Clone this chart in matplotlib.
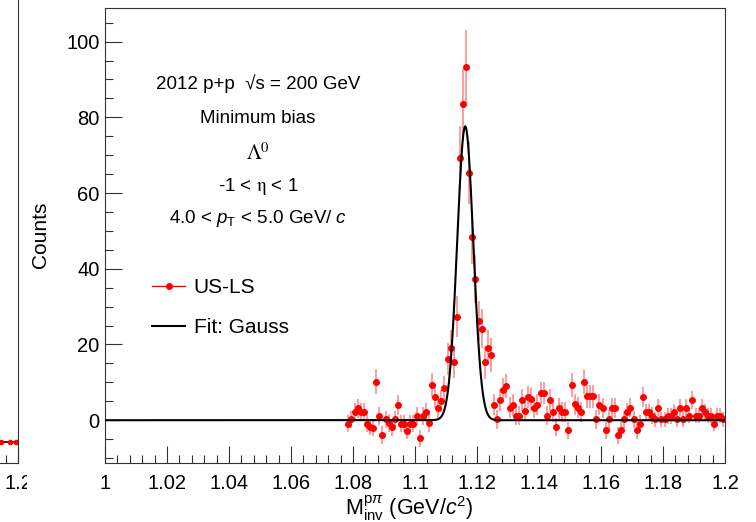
import numpy as np
import matplotlib.pyplot as plt
from matplotlib.ticker import MultipleLocator, FuncFormatter
from matplotlib.patches import Rectangle
from matplotlib.lines import Line2D

plt.rcParams['font.family'] = ['Liberation Sans', 'DejaVu Sans']
plt.rcParams['mathtext.fontset'] = 'custom'
plt.rcParams['mathtext.rm'] = 'Liberation Sans'
plt.rcParams['mathtext.it'] = 'Liberation Sans:italic'
plt.rcParams['mathtext.bf'] = 'Liberation Sans:bold'

# Histogram binning (US-LS invariant mass)
m_low = 1.078
bin_width = 0.001

# US-LS counts per bin
counts = [
    -0.9, 0.2, 2.1, 3.1, 2.2, 2.1, -0.9, -1.8, -2.0, 10.1,
    1.2, -3.9, 0.2, -0.7, -1.9, 0.2, 4.1, -0.9, -0.9, -2.8,
    -0.9, -0.9, 1.2, -4.8, 1.2, 2.1, -0.8, 9.3, 6.2, 3.3,
    5.2, 8.4, 16.2, 19.1, 15.3, 27.3, 69.2, 83.5, 93.2, 65.4,
    48.4, 37.3, 26.2, 24.2, 15.3, 19.2, 17.3, 4.1, 0.3, 5.3,
    8.1, 9.1, 3.3, 4.0, 1.2, 1.2, 5.3, 2.4, 6.2, 5.6,
    3.2, 4.1, 7.2, 7.2, 1.2, 5.3, 2.1, -1.9, 3.1, 2.1,
    2.1, -2.7, 9.2, 4.2, 3.3, 2.1, 10.0, 6.3, 6.3, 6.3,
    0.2, 4.1, 3.3, -2.7, 0.2, 3.3, 3.3, -4.0, -2.7, 0.2,
    2.1, 3.3, 0.2, -2.7, -0.9, 6.2, 2.1, 2.1, 1.2, 0.2,
    3.3, 0.2, 0.2, 1.2, 1.2, 2.1, 0.2, 3.3, 0.2, 3.3,
    1.2, 5.3, 1.2, 1.2, 3.3, 2.1, 1.2, 1.2, -0.9, 1.2,
    1.2, 0.2,
]
errors = [
    2.3, 2.2, 2.4, 2.5, 2.4, 2.4, 2.2, 2.2, 2.3, 3.3,
    2.4, 2.3, 2.3, 2.3, 2.2, 2.3, 2.6, 2.3, 2.3, 2.2,
    2.3, 2.3, 2.4, 2.3, 2.4, 2.5, 2.4, 3.2, 3.0, 2.8,
    2.9, 3.2, 4.2, 4.6, 4.2, 5.4, 8.5, 9.3, 9.9, 8.3,
    7.1, 6.3, 5.4, 5.2, 4.3, 4.6, 4.5, 2.8, 2.5, 2.9,
    3.1, 3.2, 2.7, 2.8, 2.5, 2.5, 2.9, 2.6, 2.9, 2.9,
    2.7, 2.8, 3.0, 3.0, 2.5, 2.9, 2.6, 2.4, 2.7, 2.6,
    2.6, 2.3, 3.2, 2.8, 2.7, 2.6, 3.2, 3.0, 3.0, 3.0,
    2.4, 2.7, 2.6, 2.3, 2.4, 2.6, 2.6, 2.2, 2.3, 2.3,
    2.4, 2.5, 2.2, 2.2, 2.2, 2.7, 2.3, 2.3, 2.2, 2.1,
    2.3, 2.1, 2.1, 2.1, 2.1, 2.2, 2.0, 2.3, 2.0, 2.2,
    2.0, 2.4, 2.0, 2.0, 2.2, 2.1, 2.0, 2.0, 1.9, 2.0,
    2.0, 1.9,
]
mass = m_low + bin_width * (np.arange(len(counts)) + 0.5)

# Gaussian fit parameters
fit_amp = 77.6
fit_mean = 1.1162
fit_sigma = 0.0026

# neighbouring panel (only its right edge shows)
left_mass = [1.1915, 1.1945, 1.1975, 1.1995]
left_counts = [0.0, 0.0, 0.0, 0.0]
left_errors = [0.1, 0.1, 0.1, 0.1]

info_lines = [
    '2012 p+p  \u221as = 200 GeV',
    'Minimum bias',
    r'$\mathrm{\Lambda}^{0}$',
    r'-1 < $\mathrm{\eta}$ < 1',
    r'4.0 < $p_{\mathrm{T}}$ < 5.0 GeV/ $c$',
]

W, H = 756, 522


def px_box(x0, y0, x1, y1):
    return [x0 / W, 1 - y1 / H, (x1 - x0) / W, (y1 - y0) / H]


fig = plt.figure(figsize=(W / 100, H / 100), dpi=100)


def style_axis(a):
    a.xaxis.set_major_locator(MultipleLocator(0.02))
    a.xaxis.set_minor_locator(MultipleLocator(0.004))
    a.xaxis.set_major_formatter(FuncFormatter(lambda v, p: f'{round(v, 3):g}'))
    a.tick_params(which='both', direction='in', top=False, right=False,
                  width=0.8, color='#333333', labelsize=14.5)
    a.tick_params(which='major', length=12)
    a.tick_params(which='minor', length=6)
    a.tick_params(axis='x', pad=8)
    a.tick_params(axis='y', pad=4)
    for s in a.spines.values():
        s.set_linewidth(0.8)
        s.set_color('#333333')


# Left neighbour panel
ax0 = fig.add_axes(px_box(-602, -20, 18, 463))
ax0.set_zorder(0)
ax0.errorbar(left_mass, left_counts, yerr=left_errors, fmt='o', color='red',
             ms=3, ecolor='red', elinewidth=1, capsize=0)
ax0.plot([1.0, 1.2], [0, 0], color='black', lw=1.2)
ax0.set_xlim(1.0, 1.2)
ax0.set_ylim(-1, 22)
style_axis(ax0)
ax0.set_xticks([1.2])
ax0.set_yticks([])

# white pad of the main panel covering the neighbour
fig.add_artist(Rectangle((27 / W, 0), 1, 1, transform=fig.transFigure,
                         facecolor='white', edgecolor='none', zorder=0.5))

# Main panel
ax = fig.add_axes(px_box(105, 7.5, 725, 463))
ax.set_zorder(1)

ax.errorbar(mass, counts, yerr=errors, fmt='o', color='red', ms=4,
            ecolor=(1, 0, 0, 0.45), elinewidth=1.2, capsize=0, zorder=2)

xfit = np.linspace(1.0, 1.2, 3000)
yfit = fit_amp * np.exp(-0.5 * ((xfit - fit_mean) / fit_sigma) ** 2)
ax.plot(xfit, yfit, color='black', lw=1.5, zorder=3)

ax.set_xlim(1.0, 1.2)
ax.set_ylim(-11.3, 109)
style_axis(ax)
ax.yaxis.set_major_locator(MultipleLocator(20))
ax.yaxis.set_minor_locator(MultipleLocator(5))

ax.set_xlabel(r'M$_{\mathrm{inv}}^{\mathrm{p}\pi}$ (GeV/$c^{2}$)', fontsize=15.5)
ax.xaxis.set_label_coords(0.49, -0.066)
ax.set_ylabel('Counts', fontsize=15)
ax.yaxis.set_label_coords(-0.088, 0.5)

# info text
for i, (line, yy) in enumerate(zip(info_lines, [0.832, 0.757, 0.681, 0.608, 0.536])):
    mf = 'stix' if i in (2, 3) else 'custom'
    fs = 15 if i == 2 else 13.5
    ax.text(0.247, yy, line, transform=ax.transAxes, ha='center', va='center',
            fontsize=fs, math_fontfamily=mf)

handles = [
    Line2D([], [], color='red', lw=1, marker='o', ms=4),
    Line2D([], [], color='black', lw=1.5),
]
ax.legend(handles, ['US-LS', 'Fit: Gauss'], loc='upper left',
          bbox_to_anchor=(0.0758, 0.406), frameon=False, fontsize=15,
          handlelength=1.6, handletextpad=0.4, labelspacing=1.0,
          borderpad=0, borderaxespad=0)

fig.savefig('out.png', dpi=100)
